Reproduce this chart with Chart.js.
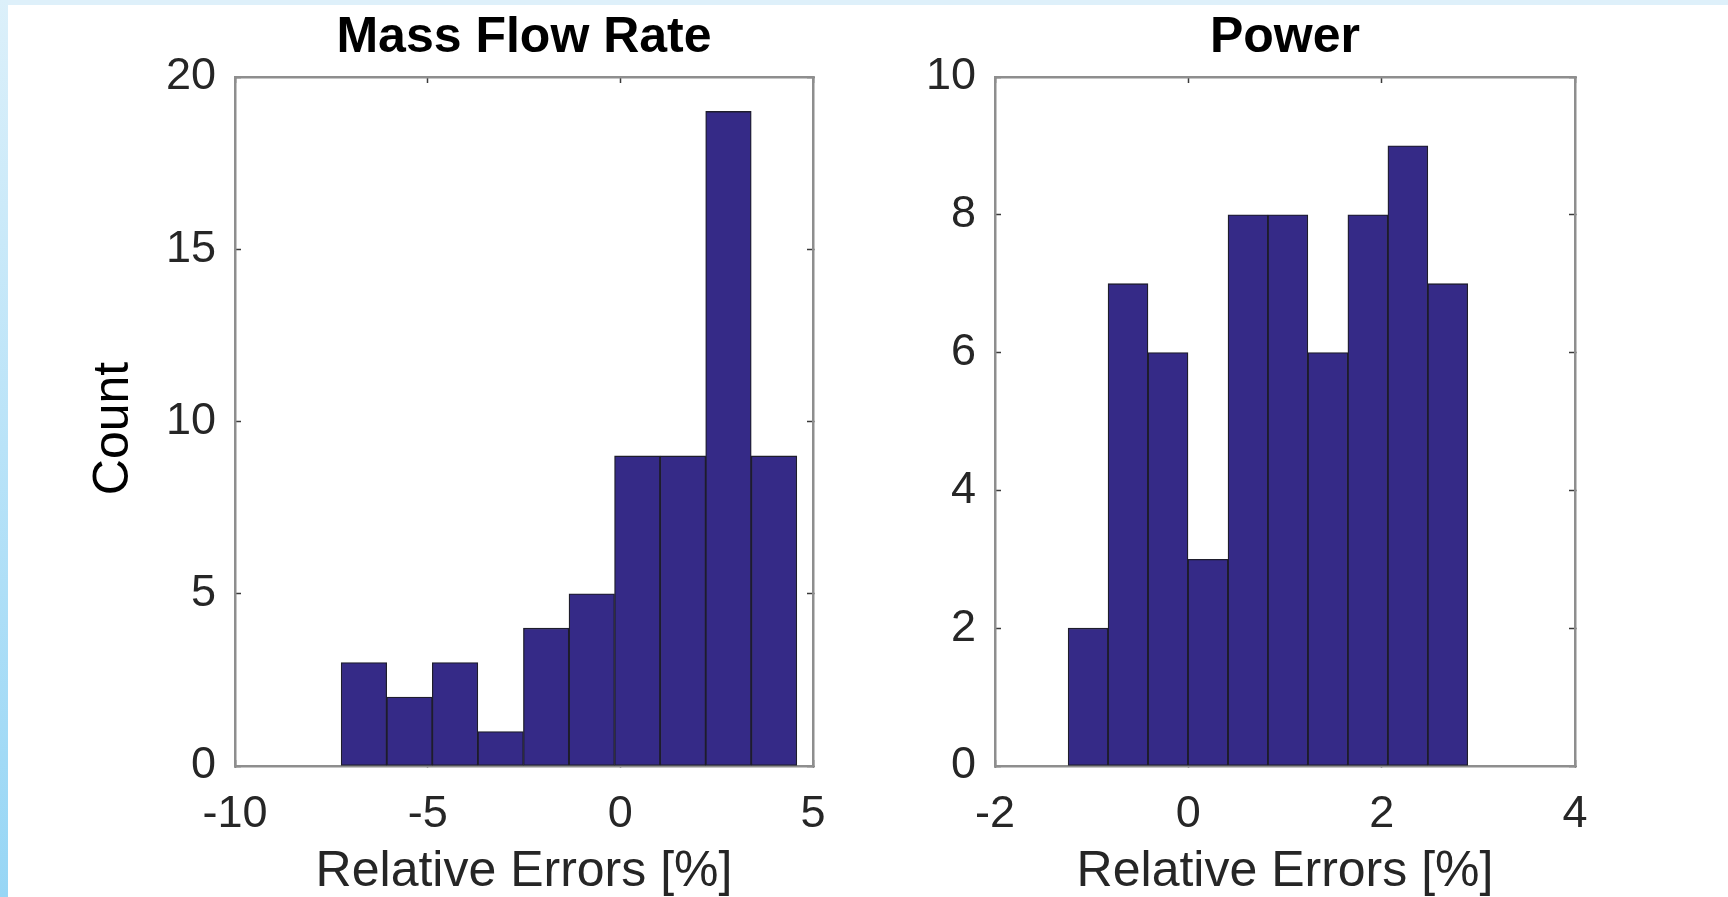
<!DOCTYPE html>
<html>
<head>
<meta charset="utf-8">
<script src="https://cdn.jsdelivr.net/npm/chart.js@4.4.1/dist/chart.umd.min.js"></script>
<style>
  html, body { margin: 0; padding: 0; }
  body {
    width: 1728px; height: 897px; overflow: hidden; position: relative;
    background: linear-gradient(to bottom, #dcf0fa 0%, #b9e3f8 50%, #97d6f5 100%);
  }
  #panel { position: absolute; left: 8px; top: 5px; right: 0; bottom: 0; background: #fff; }
  #topstrip { position: absolute; left: 8px; top: 0; right: 0; height: 5px; background: #def0fa; }
  canvas { position: absolute; top: 0; }
  #massCanvas { left: 0; }
  #powerCanvas { left: 880px; }
</style>
</head>
<body>
<div id="topstrip"></div>
<div id="panel"></div>
<canvas id="massCanvas" width="880" height="897"></canvas>
<canvas id="powerCanvas" width="848" height="897"></canvas>
<script>
// bin centres and counts
const massBins = [-6.654, -5.471, -4.289, -3.106, -1.924, -0.741, 0.441, 1.624, 2.806, 3.989]
const massCounts = [3, 2, 3, 1, 4, 5, 9, 9, 19, 9]
const powerBins = [-1.037, -0.624, -0.210, 0.203, 0.617, 1.030, 1.444, 1.857, 2.271, 2.684]
const powerCounts = [2, 7, 6, 3, 8, 8, 6, 8, 9, 7]

const massXTicks = { min: -10, max: 5, step: 5 }
const massYTicks = { min: 0, max: 20, step: 5 }
const powerXTicks = { min: -2, max: 4, step: 2 }
const powerYTicks = { min: 0, max: 10, step: 2 }

const FONT = "'Liberation Sans', Arial, Helvetica, sans-serif"
const barFill = '#352a87'
const barEdge = '#1e1d2c'
const boxColor = '#8e8e8e'
const tickColor = '#3a3a3a'
const textColor = '#262626'

function fixSize(prop, value) {
    return (scale) => { scale[prop] = value }
}

// one MATLAB-looking box: labelled axes bottom/left, bare axes top/right, ticks pointing in
function buildChart(canvas, bins, counts, xr, yr, title, yTitle, leftW, rightW) {
    const border = { display: true, color: boxColor, width: 2.5 }
    const grid = { drawOnChartArea: false, drawTicks: true, tickLength: -6, color: tickColor, tickWidth: 1.5 }

    return new Chart(canvas.getContext('2d'), {
        type: 'bar',
        data: {
            datasets: [{
                data: bins.map((b, i) => ({ x: b, y: counts[i] })),
                xAxisID: 'x',
                yAxisID: 'y',
                backgroundColor: barFill,
                borderColor: barEdge,
                borderWidth: 1.3,
                borderSkipped: false,
                barPercentage: 1,
                categoryPercentage: 1
            }]
        },
        options: {
            responsive: false,
            animation: false,
            layout: { padding: 0 },
            plugins: { legend: { display: false }, tooltip: { enabled: false } },
            scales: {
                x: {
                    type: 'linear', position: 'bottom', offset: false,
                    min: xr.min, max: xr.max,
                    border: border, grid: { ...grid, offset: false },
                    ticks: { stepSize: xr.step, padding: 28, color: textColor, font: { family: FONT, size: 45, lineHeight: 1.2 } },
                    title: { display: true, text: 'Relative Errors [%]', color: textColor, padding: { top: 0, bottom: 0 },
                             font: { family: FONT, size: 50, lineHeight: 1 } },
                    afterFit: fixSize('height', 897 - 766)
                },
                x2: {
                    type: 'linear', position: 'top', offset: false,
                    min: xr.min, max: xr.max,
                    border: border, grid: { ...grid, offset: false },
                    ticks: { stepSize: xr.step, display: false },
                    title: { display: true, text: title, color: '#000', padding: { top: 13, bottom: 0 },
                             font: { family: FONT, size: 50, weight: 'bold', lineHeight: 1 } },
                    afterFit: fixSize('height', 77)
                },
                y: {
                    type: 'linear', position: 'left',
                    min: yr.min, max: yr.max,
                    border: border, grid: grid,
                    ticks: { stepSize: yr.step, padding: 25, color: textColor, font: { family: FONT, size: 45 } },
                    // trailing space nudges the rotated label a little lower, as in the original
                    title: { display: !!yTitle, text: yTitle + ' ', color: '#000', padding: { top: 84, bottom: 0 },
                             font: { family: FONT, size: 50 } },
                    afterFit: fixSize('width', leftW)
                },
                y2: {
                    type: 'linear', position: 'right',
                    min: yr.min, max: yr.max,
                    border: border, grid: grid,
                    ticks: { stepSize: yr.step, display: false },
                    afterFit: fixSize('width', rightW)
                }
            }
        }
    })
}

document.addEventListener("DOMContentLoaded", () => {
    buildChart(document.getElementById('massCanvas'), massBins, massCounts,
        massXTicks, massYTicks, 'Mass Flow Rate', 'Count', 235, 880 - 813)
    buildChart(document.getElementById('powerCanvas'), powerBins, powerCounts,
        powerXTicks, powerYTicks, 'Power', '', 995 - 880, 848 - (1575 - 880))
})
</script>
</body>
</html>
